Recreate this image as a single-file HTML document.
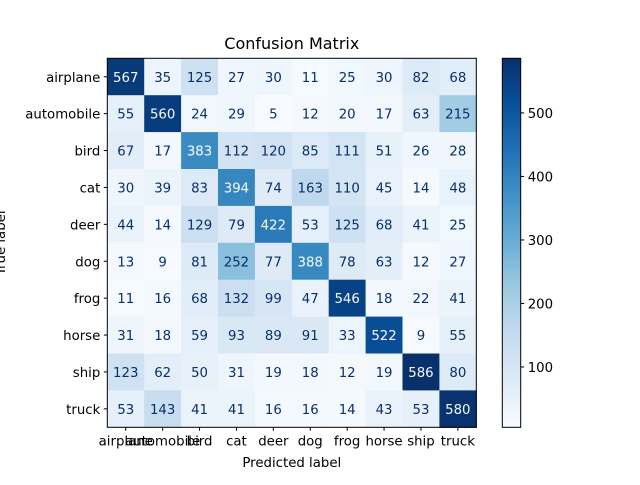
<!DOCTYPE html>
<html><head><meta charset="utf-8"><style>body{margin:0;background:#fff}svg{font-family:"DejaVu Sans","Liberation Sans",sans-serif}</style></head>
<body>
<svg id="chart" width="640" height="480" viewBox="0 0 640 480" xmlns="http://www.w3.org/2000/svg"></svg>
<script>
const labels = ["airplane","automobile","bird","cat","deer","dog","frog","horse","ship","truck"];
const row0 = [567,35,125,27,30,11,25,30,82,68];
const row1 = [55,560,24,29,5,12,20,17,63,215];
const row2 = [67,17,383,112,120,85,111,51,26,28];
const row3 = [30,39,83,394,74,163,110,45,14,48];
const row4 = [44,14,129,79,422,53,125,68,41,25];
const row5 = [13,9,81,252,77,388,78,63,12,27];
const row6 = [11,16,68,132,99,47,546,18,22,41];
const row7 = [31,18,59,93,89,91,33,522,9,55];
const row8 = [123,62,50,31,19,18,12,19,586,80];
const row9 = [53,143,41,41,16,16,14,43,53,580];
const matrix = [row0,row1,row2,row3,row4,row5,row6,row7,row8,row9];
const cbTicks = [100,200,300,400,500];

const NS="http://www.w3.org/2000/svg", svg=document.getElementById('chart');
function mk(t,a,txt){const e=document.createElementNS(NS,t);for(const k in a)e.setAttribute(k,a[k]);if(txt!==undefined)e.textContent=txt;svg.appendChild(e);return e;}
const flat=matrix.flat(), vmin=Math.min(...flat), vmax=Math.max(...flat);
const stops=["#f7fbff","#deebf7","#c6dbef","#9ecae1","#6baed6","#4292c6","#2171b5","#08519c","#08306b"].map(h=>[1,3,5].map(i=>parseInt(h.substr(i,2),16)));
function cmap(v){let t=(v-vmin)/(vmax-vmin);t=Math.max(0,Math.min(1,t))*8;const i=Math.min(7,Math.floor(t)),f=t-i;const c=stops[i].map((a,j)=>Math.round(a+(stops[i+1][j]-a)*f));return `rgb(${c})`;}
const L=107.3,T=58.3,S=36.9,n=labels.length;
const xs=j=>L+j*S, ys=i=>T+i*S;
for(let i=0;i<n;i++)for(let j=0;j<n;j++){
  const v=matrix[i][j];
  const r=mk('rect',{x:xs(j),y:ys(i),width:S+0.5,height:S+0.5,fill:cmap(v)});
  
  
  const t=mk('text',{x:xs(j)+S/2,y:ys(i)+S/2+5,'text-anchor':'middle','font-size':13.3,fill:v>(vmin+vmax)/2?'#f7fbff':'#08306b'},v);
  
  
}
const fr=mk('rect',{x:L,y:T,width:S*n,height:S*n,fill:'none',stroke:'#000','stroke-width':1});

for(let k=0;k<n;k++){
  const cx=xs(k)+S/2, cy=ys(k)+S/2;
  mk('line',{x1:cx,x2:cx,y1:T+S*n,y2:T+S*n+3.5,stroke:'#000'});
  const xl=mk('text',{x:cx,y:T+S*n+18,'text-anchor':'middle','font-size':13.3,fill:'#000'},labels[k]);
  
  mk('line',{x1:L-3.5,x2:L,y1:cy,y2:cy,stroke:'#000'});
  const yl=mk('text',{x:L-7,y:cy+5,'text-anchor':'end','font-size':13.3,fill:'#000'},labels[k]);
  
}
const ti=mk('text',{x:L+S*n/2,y:49,'text-anchor':'middle','font-size':16,fill:'#000'},'Confusion Matrix');

const xt=mk('text',{x:L+S*n/2,y:467,'text-anchor':'middle','font-size':13.3,fill:'#000'},'Predicted label');

const yt=mk('text',{x:0,y:0,'text-anchor':'middle','font-size':13.3,fill:'#000',transform:`translate(5,${T+S*n/2}) rotate(-90)`},'True label');

// colorbar
const cbL=502.3,cbW=18.4,cbT=58.3,cbB=427.3;
const cy=v=>cbB-(v-vmin)/(vmax-vmin)*(cbB-cbT);
const defs=mk('defs',{});const g=document.createElementNS(NS,'linearGradient');g.setAttribute('id','cbg');g.setAttribute('x1','0');g.setAttribute('y1','1');g.setAttribute('x2','0');g.setAttribute('y2','0');defs.appendChild(g);
for(let k=0;k<=8;k++){const s=document.createElementNS(NS,'stop');s.setAttribute('offset',k/8);s.setAttribute('stop-color',cmap(vmin+(vmax-vmin)*k/8));g.appendChild(s);}
const cb=mk('rect',{x:cbL,y:cbT,width:cbW,height:cbB-cbT,fill:'url(#cbg)',stroke:'#000','stroke-width':1});

cbTicks.forEach(v=>{const y=cy(v);
  mk('line',{x1:cbL+cbW,x2:cbL+cbW+3.5,y1:y,y2:y,stroke:'#000'});
  const t=mk('text',{x:cbL+cbW+7,y:y+5,'font-size':13.3,fill:'#000'},v);
  
});
</script>
</body></html>
